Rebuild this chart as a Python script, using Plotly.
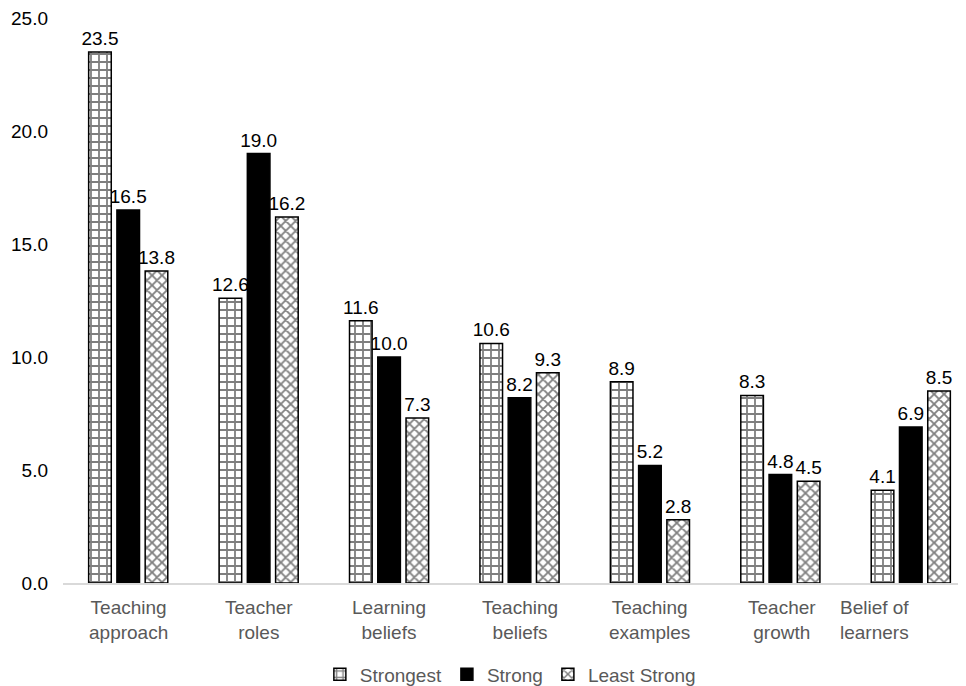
import plotly.graph_objects as go

categories = ["Teaching<br>approach", "Teacher<br>roles", "Learning<br>beliefs", "Teaching<br>beliefs",
              "Teaching<br>examples", "Teacher<br>growth", "Belief of<br>learners"]
strongest = [23.5, 12.6, 11.6, 10.6, 8.9, 8.3, 4.1]
strong = [16.5, 19.0, 10.0, 8.2, 5.2, 4.8, 6.9]
least_strong = [13.8, 16.2, 7.3, 9.3, 2.8, 4.5, 8.5]
y_ticks = [0, 5, 10, 15, 20, 25]
label_shift = [0, 0, 0, 0, 0, 2, -36]

FONT = "Liberation Sans, Arial, sans-serif"
FS = 19

fig = go.Figure()
fig.add_trace(go.Bar(
    name="Strongest", x=categories, y=strongest,
    marker=dict(color="white", line=dict(color="black", width=1.5),
                pattern=dict(shape="+", fgcolor="black", bgcolor="white", size=8, solidity=0.4)),
    text=[f"{v:.1f}" for v in strongest], textposition="outside",
    textfont=dict(color="black", size=FS, family=FONT), cliponaxis=False,
))
fig.add_trace(go.Bar(
    name="Strong", x=categories, y=strong,
    marker=dict(color="black", line=dict(color="black", width=1.5)),
    text=[f"{v:.1f}" for v in strong], textposition="outside",
    textfont=dict(color="black", size=FS, family=FONT), cliponaxis=False,
))
fig.add_trace(go.Bar(
    name="Least Strong", x=categories, y=least_strong,
    marker=dict(color="white", line=dict(color="black", width=1.5),
                pattern=dict(shape="x", fgcolor="black", bgcolor="white", size=7, solidity=0.45)),
    text=[f"{v:.1f}" for v in least_strong], textposition="outside",
    textfont=dict(color="black", size=FS, family=FONT), cliponaxis=False,
))

for cat, dx in zip(categories, label_shift):
    fig.add_annotation(x=cat, y=0, xref="x", yref="y", text=cat, showarrow=False,
                       yanchor="top", yshift=-12, xshift=dx,
                       font=dict(size=FS, color="#595959", family=FONT))

fig.update_layout(
    width=970, height=678,
    margin=dict(l=55, r=2, t=10, b=103, autoexpand=False),
    paper_bgcolor="white", plot_bgcolor="white",
    barmode="group", bargap=0.35, bargroupgap=0.2,
    font=dict(family=FONT, size=FS, color="black"),
    uniformtext=dict(minsize=FS, mode="show"),
    showlegend=True,
    legend=dict(orientation="h", x=0.49, xanchor="center", y=-0.128, yanchor="top",
                font=dict(size=FS, color="#595959", family=FONT), traceorder="normal",
                itemwidth=30, tracegroupgap=0),
    yaxis=dict(range=[0, 25], tickvals=y_ticks, ticktext=[f"{v:.1f}" for v in y_ticks],
               showgrid=False, zeroline=False, showline=False, ticks="", automargin=False,
               ticklabelstandoff=14, ticklabeloverflow="allow",
               tickfont=dict(size=FS, color="black", family=FONT)),
    xaxis=dict(showline=True, linecolor="#d9d9d9", linewidth=1.5, ticks="", automargin=False,
               showticklabels=False),
)

fig.write_html("out.html")
